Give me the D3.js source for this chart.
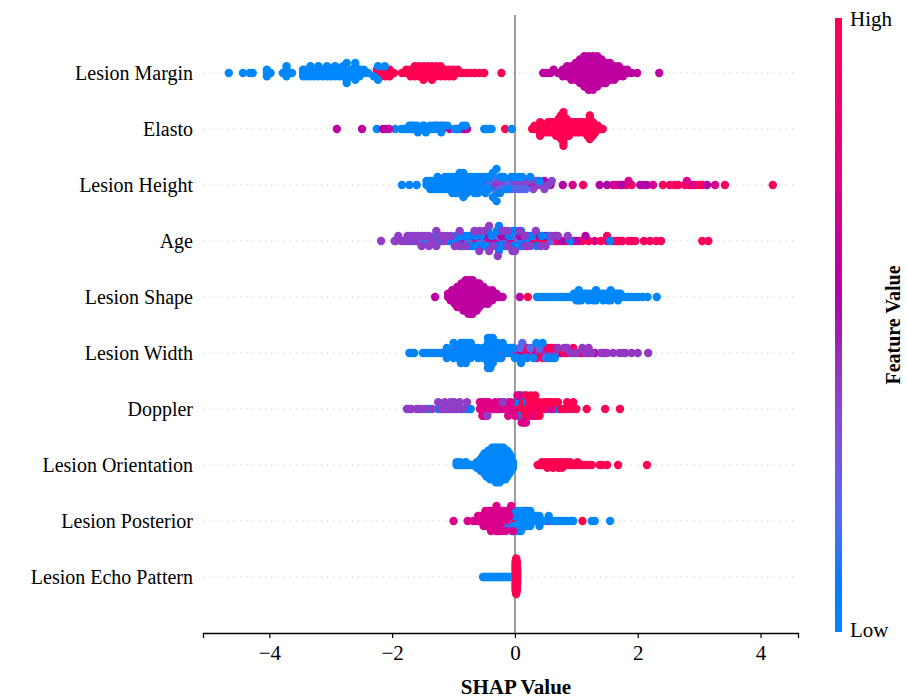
<!DOCTYPE html>
<html><head><meta charset="utf-8">
<script src="https://cdn.jsdelivr.net/npm/d3@7"></script>
<style>body{margin:0;background:#fff} svg{display:block}</style>
</head><body><svg id="chart" width="907" height="699"></svg>
<script>
// ---------------- DATA ----------------
const features = ["Lesion Margin","Elasto","Lesion Height","Age","Lesion Shape","Lesion Width","Doppler","Lesion Orientation","Lesion Posterior","Lesion Echo Pattern"];
const xTicks = [-4,-2,0,2,4];
// Each feature: groups of [featureValue (0=low,1=high), SHAP values]; an entry [v, n] means n samples at SHAP value v
const lesionMargin = [
  [0.0, [-4.66,-4.43,-4.32,-4.27,[-4.04,3],-3.98,-3.78,[-3.72,3],-3.68,-3.63,[-3.45,3],[-3.39,3],[-3.33,4],[-3.27,3],[-3.2,4],[-3.13,3],[-3.06,4],[-3.0,3],[-2.93,4],[-2.86,3],[-2.8,4],[-2.74,3],[-2.67,3],[-2.6,5],[-2.53,3],[-2.46,2],-2.39,-2.3,[-2.23,2],-2.12]],
  [1.0, [-2.62,[-2.25,2],[-2.18,3],[-2.11,3],[-2.04,3],-1.97,-1.84,[-1.77,2],[-1.7,3],[-1.63,4],[-1.56,4],[-1.49,5],[-1.42,4],[-1.35,5],[-1.28,4],[-1.21,4],[-1.14,3],[-1.07,3],[-1.0,3],[-0.93,2],-0.86,-0.79,-0.72,-0.65,-0.58,-0.5,-0.22]],
  [0.6, [0.46,0.52,0.58,0.63,0.7,[0.78,3],[0.85,4],[0.92,5],[0.99,6],[1.06,8],[1.13,10],[1.2,11],[1.27,11],[1.34,10],[1.41,8],[1.48,7],[1.55,6],[1.62,5],[1.69,4],[1.76,3],[1.83,2],1.9,1.99,2.35]]
];
const elasto = [
  [0.0, [-2.25,-1.95,-1.85,-1.82,-1.78,-1.75,-1.72,-1.7,-1.68,-1.65,-1.62,-1.6,-1.58,-1.55,-1.52,-1.5,-1.48,-1.45,-1.42,-1.4,-1.38,-1.35,-1.32,-1.3,-1.28,-1.25,-1.2,-1.15,-1.1,-0.98,-0.92,-0.85,-0.8,-0.5,-0.46,-0.42,-0.38,-0.05]],
  [0.6, [-2.9,-2.49,-2.15,-2.1,-2.05,-1.66,-1.45,-1.25,-1.22,-1.2,-1.18,-1.06,-0.95,-0.88,-0.82,-0.78]],
  [1.0, [-0.16,0.28,[0.32,2],[0.37,2],[0.41,3],[0.45,3],[0.49,3],[0.54,4],[0.58,4],[0.62,4],[0.67,5],[0.71,6],[0.75,8],[0.79,11],[0.84,6],[0.88,5],[0.92,4],[0.97,4],[1.01,4],[1.05,4],[1.1,4],[1.14,4],[1.18,5],[1.22,8],[1.27,5],[1.31,3],[1.35,2],1.4,1.43]]
];
const lesionHeight = [
  [0.02, [-1.84,-1.72,-1.6,[-1.44,2],[-1.38,3],[-1.32,3],[-1.26,3],[-1.2,3],[-1.14,4],[-1.08,3],[-1.02,4],[-0.96,4],[-0.9,4],[-0.84,7],[-0.78,4],[-0.72,3],[-0.66,4],[-0.6,3],[-0.54,3],[-0.48,3],[-0.42,2],[-0.36,2],[-0.3,2],[-0.24,2],-0.18,-0.12,-0.06,0.0,0.06,0.12,0.25,0.4]],
  [0.2, [-1.26,-1.08,-0.96,-0.9,-0.78,-0.66,-0.54,-0.48,-0.42,-0.36,-0.3,-0.24,-0.18,-0.12,-0.06,0.0,0.06,0.12,0.18]],
  [0.38, [-1.02,-0.9,-0.72,-0.6,-0.48,-0.42,-0.36,-0.3,-0.24,-0.18,-0.12,-0.06,0.0,0.06,0.12,0.18,0.24,0.3,0.36,0.42,0.48,0.54,0.6]],
  [0.55, [-0.6,-0.36,-0.18,-0.06,0.06,0.12,0.18,0.24,0.3,0.36,0.48,0.58,0.78,1.38,1.5,1.72,2.04,2.15,3.13]],
  [0.72, [-0.24,0.0,0.3,0.48,0.94,1.6,1.76,1.85,2.1,2.25,2.8,2.9,3.26]],
  [0.95, [1.11,1.66,1.82,1.9,2.41,2.52,2.6,2.66,2.77,2.84,2.94,3.0,3.05,3.42,4.2]]
];
const age = [
  [0.4, [-2.18,-1.96,-1.9,-1.85,-1.8,[-1.75,2],-1.7,[-1.64,2],-1.58,[-1.52,2],-1.46,[-1.4,2],-1.34,[-1.28,2],-1.22,[-1.16,2],-1.1,-1.04,-0.98,[-0.9,2],-0.8,-0.66,[-0.58,2],-0.5,[-0.42,2],-0.36,-0.28,-0.2,[-0.12,2],-0.04,0.0,0.08,[0.16,2],0.25,0.34,0.42,0.5,0.6,0.7,0.86]],
  [0.05, [-1.7,-1.46,-1.3,-1.2,-1.05,[-0.96,2],-0.9,[-0.85,2],-0.8,[-0.75,2],-0.7,[-0.65,2],-0.6,[-0.55,2],-0.5,[-0.44,2],-0.38,[-0.3,2],[-0.26,3],-0.2,[-0.16,2],-0.1,[-0.04,2],0.02,0.06,[0.1,2],0.18,0.26,0.35,0.44,0.56,0.9,1.55]],
  [0.22, [-1.94,-1.56,-1.4,-1.1,-0.76,-0.56,-0.4,-0.32,-0.28,-0.2,-0.05,0.05,0.3,0.6]],
  [0.55, [-1.6,-1.25,-1.0,-0.88,-0.7,-0.6,-0.46,-0.36,-0.28,-0.22,-0.15,0.08,0.2,0.4,0.5,0.66,0.76,1.0,1.15,1.7]],
  [0.72, [-0.85,-0.62,-0.55,-0.4,-0.3,-0.18,-0.1,-0.05,0.12,0.2,0.3,0.5,0.65,0.8,1.05,1.3,1.5,1.9]],
  [0.95, [-0.8,-0.7,-0.5,-0.25,0.0,[0.03,2],0.1,0.2,0.28,0.36,0.45,0.55,0.7,0.85,0.95,1.1,1.2,1.4,1.5,1.6,1.66,1.75,1.85,1.96,2.1,2.2,2.3,2.38,3.05,3.15]]
];
const lesionShape = [
  [0.6, [-1.3,[-1.09,2],[-1.05,3],[-1.02,4],[-0.98,5],[-0.94,6],[-0.91,7],[-0.87,8],[-0.84,9],[-0.8,10],[-0.76,10],[-0.73,11],[-0.69,10],[-0.66,9],[-0.62,8],[-0.58,7],[-0.55,6],[-0.51,5],[-0.48,4],[-0.44,4],[-0.4,3],[-0.37,3],[-0.33,2],[-0.3,2],-0.26,-0.2,0.08]],
  [1.0, [-0.95,-0.76,-0.69,-0.62,-0.58,-0.51,-0.44,-0.37,0.21]],
  [0.0, [0.36,0.42,0.48,0.54,0.6,0.66,0.7,0.75,0.8,0.84,0.88,0.92,[0.96,2],[1.0,3],[1.04,4],[1.08,3],[1.12,2],[1.16,2],[1.2,3],[1.24,2],[1.28,3],[1.32,4],[1.36,2],[1.4,2],[1.44,3],[1.48,2],[1.52,3],[1.56,4],[1.6,2],[1.64,2],[1.68,3],[1.72,2],1.78,1.84,1.9,1.96,2.02,2.08,2.16,2.31]]
];
const lesionWidth = [
  [0.03, [-1.72,-1.68,-1.64,-1.5,-1.45,-1.4,-1.3,-1.25,-1.2,-1.15,[-1.11,2],-1.05,[-1.0,2],-0.96,[-0.92,3],[-0.88,3],[-0.84,4],[-0.8,4],[-0.76,4],[-0.72,3],[-0.68,2],-0.64,[-0.6,2],-0.56,[-0.52,2],[-0.48,3],[-0.44,4],[-0.4,7],[-0.36,5],[-0.32,4],[-0.28,3],[-0.24,2],-0.2,[-0.16,2],-0.12,[-0.08,2],-0.04,0.0,0.05,0.1,0.15,0.2,0.3,0.35,0.45,0.55,0.65]],
  [0.2, [-1.35,-1.1,-0.98,-0.88,-0.7,-0.62,-0.52,-0.44,-0.36,-0.3,-0.22,-0.12,-0.02,0.08,0.12,0.25,0.4,0.5]],
  [0.42, [-0.6,-0.2,0.05,0.2,0.3,0.35,0.4,0.5,0.55,0.6,0.65,0.7,0.8,0.85,0.9,1.0,1.1,1.15,1.2,1.25,1.4,1.5,1.6,1.7,1.75,1.8,1.9,2.0,2.17]],
  [0.55, [-0.45,0.0,0.1,0.25,0.35,0.45,0.6,0.75,0.95,1.05,1.3,1.45]],
  [0.75, [-0.8,-0.45,-0.25,0.1,0.15,0.3,0.45,0.5,0.6,0.7,0.85,1.2]],
  [0.95, [-1.0,-0.85,-0.2,-0.05,0.1,0.15,0.2,0.35,0.45,0.55,0.65,0.8,0.95,1.1]]
];
const doppler = [
  [0.4, [-1.76,-1.72,-1.69,-1.6,-1.55,-1.48,-1.35,-1.25,-1.2,-1.17,-1.14,-1.11,-1.08,-1.05,-1.02,-0.99,-0.95,-0.9,-0.85,-0.78,-0.45,-0.2,0.15,0.35]],
  [0.05, [-1.42,-1.25,-1.15,-0.98,-0.88,-0.8,-0.75,-0.72,-0.3,-0.25,-0.15,-0.1,-0.05,0.0,0.05,0.1,0.2,0.25,0.32,0.45,0.55,0.65,0.72,0.85,0.95]],
  [0.75, [[-0.57,2],[-0.53,3],[-0.5,3],[-0.46,3],[-0.43,2],-0.39,-0.36,-0.32,-0.28,-0.25,-0.21,-0.18,-0.14,-0.11,-0.07,-0.04,0.0,0.04,0.07,0.11,0.18,0.3,0.4,0.5,0.6]],
  [1.0, [-0.35,-0.1,0.02,[0.05,2],[0.09,3],[0.12,3],[0.16,4],[0.19,3],[0.23,3],[0.26,3],[0.3,2],[0.33,3],[0.37,2],[0.4,2],0.44,0.47,0.51,0.55,0.6,0.65,0.7,0.75,0.8,0.85,0.9,0.95,1.0,1.17,1.47,1.71]]
];
const lesionOrientation = [
  [0.0, [[-0.95,2],-0.92,[-0.89,2],-0.86,-0.83,[-0.8,2],-0.77,-0.74,-0.71,-0.68,-0.65,[-0.62,3],[-0.589,3],[-0.558,5],[-0.527,6],[-0.496,8],[-0.465,9],[-0.434,10],[-0.403,11],[-0.372,12],[-0.341,12],[-0.31,13],[-0.279,13],[-0.248,13],[-0.217,12],[-0.186,12],[-0.155,11],[-0.124,10],[-0.093,8],[-0.062,6],[-0.031,3]]],
  [1.0, [0.37,0.4,[0.44,2],0.47,[0.5,2],[0.53,3],0.56,[0.59,2],[0.62,3],0.65,[0.68,2],[0.71,3],0.74,[0.77,2],0.8,[0.84,2],0.87,[0.9,2],0.94,0.98,[1.02,2],1.06,1.1,1.14,1.2,1.25,1.38,1.42,1.5,1.68,2.15]]
];
const lesionPosterior = [
  [0.72, [-1.0,-0.77,-0.68,-0.64,[-0.6,2],[-0.57,2],[-0.54,2],[-0.51,3],[-0.48,3],[-0.45,3],[-0.42,3],[-0.39,3],[-0.36,3],[-0.33,3],[-0.3,3],[-0.27,3],[-0.24,3],[-0.21,2],[-0.18,2],[-0.15,2],-0.12,-0.09,-0.06,-0.03]],
  [0.4, [-0.4,-0.3,-0.25,-0.2,-0.15,-0.12,-0.08,-0.05,-0.02,0.0,0.05,0.1,0.15,0.2]],
  [1.0, [-0.5,-0.42,-0.3,-0.22,-0.15,-0.1,-0.05,0.0,0.02,0.05,0.1,0.18,0.25,0.4,0.55,1.1]],
  [0.0, [-0.38,-0.3,-0.25,-0.2,-0.15,-0.1,[-0.05,3],[-0.02,3],[0.0,3],[0.02,2],[0.05,3],[0.08,3],[0.1,3],[0.12,3],[0.15,3],[0.18,3],[0.2,3],[0.22,2],[0.25,3],[0.28,2],[0.3,2],[0.33,2],[0.36,2],[0.4,2],0.45,0.5,0.55,0.6,0.65,0.7,0.75,0.8,0.85,0.9,0.95,1.25,1.3,1.55]]
];
const lesionEchoPattern = [
  [0.0, [-0.52,-0.5,-0.48,-0.46,-0.44,-0.42,-0.4,-0.38,-0.36,-0.34,-0.32,-0.3,-0.28,-0.26,-0.24,-0.22,-0.2,-0.18,-0.16,-0.14,-0.12,-0.1,-0.08]],
  [1.0, [[0.012,20],[0.02,24],[0.028,20],[0.036,12]]]
];
const featureData = [lesionMargin, elasto, lesionHeight, age, lesionShape, lesionWidth, doppler, lesionOrientation, lesionPosterior, lesionEchoPattern];

// ---------------- CHART ----------------
const svg = d3.select("#chart");
const font = "'Liberation Serif','Times New Roman',serif";
const x = d3.scaleLinear().domain([-5.08, 4.61]).range([203, 798]);
const y = d3.scaleLinear().domain([-1, 10]).range([633, 17]);
// SHAP red_blue colour map: LCH path blue -> purple (darker mid) -> red
function color(t){
  t = Math.max(0, Math.min(1, t));
  const h = 266.93 + t*(380.32-266.93);
  const c = 70 + 20*t;
  const l = t < 0.5 ? 54 - 28*t : 40 + 28*(t-0.5);
  return d3.hcl(h % 360, c, l).formatHex();
}

// dotted row guides
features.forEach((f,i)=>{
  svg.append("line").attr("x1",203).attr("x2",798)
    .attr("y1",y(9-i)).attr("y2",y(9-i))
    .attr("stroke","#cccccc").attr("stroke-width",1.2).attr("stroke-dasharray","1.2,5");
});
// zero line
svg.append("line").attr("x1",x(0)).attr("x2",x(0)).attr("y1",y(10)-2).attr("y2",y(-1))
  .attr("stroke","#999").attr("stroke-width",2);

function expand(groups){
  const lists = groups.map(([fv, vals]) => {
    const pts = [];
    vals.forEach(v => {
      if (Array.isArray(v)) { for (let k=0;k<v[1];k++) pts.push({shap:v[0], fv}); }
      else pts.push({shap:v, fv});
    });
    return pts;
  });
  const out = [];
  const maxLen = d3.max(lists, l=>l.length);
  for (let i=0;i<maxLen;i++) lists.forEach(l => { if (i<l.length) out.push(l[i]); });
  out.forEach((p,i)=>p.order=i);
  return out;
}
function swarm(points){
  const mn = d3.min(points,p=>p.shap), mx = d3.max(points,p=>p.shap);
  const nbins = 100;
  points.forEach(p => p.q = Math.round(nbins*(p.shap-mn)/(mx-mn+1e-8)));
  const sorted = points.slice().sort((a,b)=>a.q-b.q || a.order-b.order);
  let layer=0, last=-1;
  sorted.forEach(p=>{
    if (p.q!==last) layer=0;
    p.ys = Math.ceil(layer/2)*((layer%2)*2-1);
    layer++; last=p.q;
  });
  const m = d3.max(points,p=>p.ys+1);
  points.forEach(p=>p.ys *= 0.9*(0.4/m));
}

featureData.forEach((groups,i)=>{
  const pts = expand(groups);
  swarm(pts);
  const pos = 9-i;
  svg.append("g").selectAll("circle").data(pts).join("circle")
    .attr("cx",d=>x(d.shap)).attr("cy",d=>y(pos+d.ys)).attr("r",4.2)
    .attr("fill",d=>color(d.fv));
});

// y labels
features.forEach((f,i)=>{
  svg.append("text").attr("x",193).attr("y",y(9-i)).attr("dy","0.35em")
    .attr("text-anchor","end").attr("font-family",font).attr("font-size",20).attr("fill","#000").text(f);
});

// x axis
const axis = svg.append("g").attr("transform","translate(0,633)")
  .call(d3.axisBottom(x).tickValues(xTicks).tickSize(5).tickPadding(7).tickFormat(d=> d<0 ? "\u2212"+Math.abs(d) : d));
axis.select(".domain").attr("stroke","#000").attr("stroke-width",1.3);
axis.selectAll(".tick line").attr("stroke","#000").attr("stroke-width",1.2);
axis.selectAll(".tick text").attr("font-family",font).attr("font-size",21).attr("fill","#000");
svg.append("text").attr("x",516).attr("y",694).attr("text-anchor","middle")
  .attr("font-family",font).attr("font-weight","bold").attr("font-size",21).text("SHAP Value");

// color bar
const defs = svg.append("defs");
const grad = defs.append("linearGradient").attr("id","cbar").attr("x1",0).attr("x2",0).attr("y1",1).attr("y2",0);
d3.range(0,1.0001,0.05).forEach(t=>grad.append("stop").attr("offset",t).attr("stop-color",color(t)));
svg.append("rect").attr("x",835).attr("y",18).attr("width",7).attr("height",614).attr("fill","url(#cbar)");
svg.append("text").attr("x",850).attr("y",26).attr("font-family",font).attr("font-size",21).text("High");
svg.append("text").attr("x",850).attr("y",637).attr("font-family",font).attr("font-size",21).text("Low");
svg.append("text").attr("transform","translate(893,325) rotate(-90)").attr("text-anchor","middle")
  .attr("dy","0.35em").attr("font-family",font).attr("font-weight","bold").attr("font-size",20).text("Feature Value");
</script></body></html>
